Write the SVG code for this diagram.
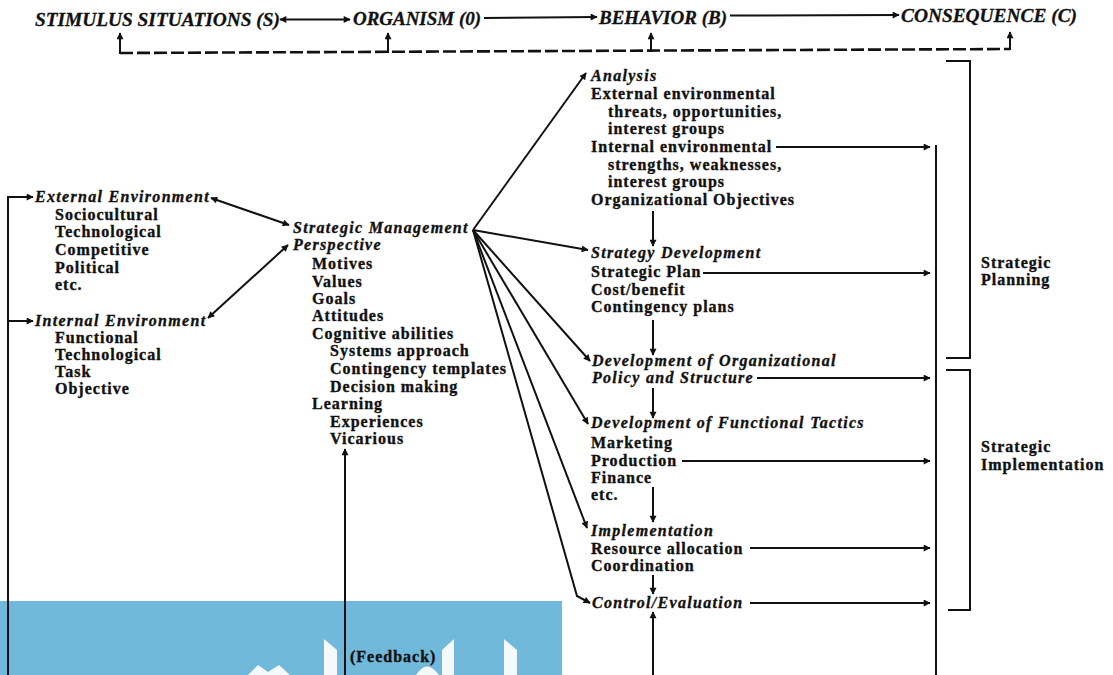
<svg xmlns="http://www.w3.org/2000/svg" width="1113" height="675" viewBox="0 0 1113 675">
<defs>
<marker id="ah" viewBox="0 0 10 10" refX="9" refY="5" markerWidth="10" markerHeight="7" orient="auto-start-reverse" markerUnits="userSpaceOnUse">
<path d="M0,0 L10,5 L0,10 z" fill="#111"/>
</marker>
<style>
.t{font-family:"Liberation Serif","Times New Roman",serif;font-weight:bold;font-size:16px;letter-spacing:1px;fill:#111;stroke:#111;stroke-width:0.35}
.h{font-style:italic;letter-spacing:1.3px}
.top{font-family:"Liberation Serif","Times New Roman",serif;font-weight:bold;font-style:italic;font-size:18px;fill:#111;stroke:#111;stroke-width:0.3}
.ln{stroke:#111;stroke-width:2;fill:none}
.arr{marker-end:url(#ah)}
.dbl{marker-start:url(#ah);marker-end:url(#ah)}
.dash{stroke:#111;stroke-width:2.6;fill:none;stroke-dasharray:13 4}
.wm{fill:#fff;opacity:0.92}
</style>
</defs>
<rect width="1113" height="675" fill="#fff"/>
<g id="background">
<rect x="0" y="601" width="562" height="74" fill="#70B9DA"/>
<path class="wm" d="M248,675 L258,665 L268,672 L279,665 L290,675 Z"/>
<path class="wm" d="M324,639 L337,650 L337,675 L324,675 Z"/>
<path class="wm" d="M416,675 Q427,658 439,675 Z"/>
<path class="wm" d="M442,650 L454,639 L454,675 L442,675 Z"/>
<path class="wm" d="M504,639 L517,650 L517,675 L504,675 Z"/>
</g>
<g id="connectors">
<line class="ln dbl" x1="280" y1="19.5" x2="350" y2="19.5"/>
<line class="ln arr" x1="484" y1="18" x2="597" y2="17"/>
<line class="ln arr" x1="730" y1="15.5" x2="899" y2="15"/>
<path class="dash" d="M120,53 L1010,49"/>
<line class="ln arr" x1="120" y1="54" x2="120" y2="33"/>
<line class="ln arr" x1="388" y1="53" x2="388" y2="33"/>
<line class="ln arr" x1="651" y1="52" x2="651" y2="33"/>
<line class="ln arr" x1="1010" y1="50" x2="1010" y2="32"/>
<path class="ln arr" d="M8,675 V197 H33"/>
<path class="ln arr" d="M8,321 H33"/>
<line class="ln dbl" x1="211" y1="198" x2="289" y2="225"/>
<line class="ln dbl" x1="208" y1="318" x2="288" y2="245"/>
<line class="ln arr" x1="473" y1="230" x2="586" y2="73"/>
<line class="ln arr" x1="473" y1="230" x2="588" y2="250"/>
<line class="ln arr" x1="473" y1="230" x2="590" y2="361"/>
<line class="ln arr" x1="473" y1="230" x2="588" y2="424"/>
<line class="ln arr" x1="473" y1="230" x2="587" y2="528"/>
<path class="ln arr" d="M473,230 L577,596 L590,603"/>
<line class="ln arr" x1="653" y1="211" x2="653" y2="246"/>
<line class="ln arr" x1="653" y1="320" x2="653" y2="355"/>
<line class="ln arr" x1="653" y1="388" x2="653" y2="418"/>
<line class="ln arr" x1="653" y1="487" x2="653" y2="522"/>
<line class="ln arr" x1="653" y1="575" x2="653" y2="594"/>
<line class="ln arr" x1="653" y1="675" x2="653" y2="612"/>
<line class="ln arr" x1="776" y1="147" x2="930" y2="147"/>
<line class="ln arr" x1="703" y1="273" x2="930" y2="273"/>
<line class="ln arr" x1="757" y1="378" x2="930" y2="378"/>
<line class="ln arr" x1="682" y1="461" x2="930" y2="461"/>
<line class="ln arr" x1="750" y1="548" x2="930" y2="548"/>
<line class="ln arr" x1="750" y1="603" x2="930" y2="603"/>
<line class="ln" x1="936" y1="145" x2="936" y2="675"/>
<path class="ln" d="M946,61 H970 V358 H946"/>
<path class="ln" d="M946,370 H970 V610 H948"/>
<line class="ln arr" x1="345" y1="675" x2="345" y2="449"/>
</g>
<g id="n-stimulus"><text class="top" x="35" y="26" textLength="245" lengthAdjust="spacingAndGlyphs">STIMULUS SITUATIONS (S)</text></g>
<g id="n-organism"><text class="top" x="353" y="25" textLength="128" lengthAdjust="spacingAndGlyphs">ORGANISM (0)</text></g>
<g id="n-behavior"><text class="top" x="599" y="23.5" textLength="128" lengthAdjust="spacingAndGlyphs">BEHAVIOR (B)</text></g>
<g id="n-consequence"><text class="top" x="901" y="22" textLength="176" lengthAdjust="spacingAndGlyphs">CONSEQUENCE (C)</text></g>
<g id="n-external">
<text class="t h" x="35" y="202">External Environment</text>
<text class="t" x="55" y="220">Sociocultural</text>
<text class="t" x="55" y="237">Technological</text>
<text class="t" x="55" y="255">Competitive</text>
<text class="t" x="55" y="273">Political</text>
<text class="t" x="55" y="290">etc.</text>
</g>
<g id="n-internal">
<text class="t h" x="35" y="326">Internal Environment</text>
<text class="t" x="55" y="343">Functional</text>
<text class="t" x="55" y="360">Technological</text>
<text class="t" x="55" y="377">Task</text>
<text class="t" x="55" y="394">Objective</text>
</g>
<g id="n-perspective">
<text class="t h" x="293" y="233">Strategic Management</text>
<text class="t h" x="293" y="250">Perspective</text>
<text class="t" x="312" y="269">Motives</text>
<text class="t" x="312" y="287">Values</text>
<text class="t" x="312" y="304">Goals</text>
<text class="t" x="312" y="321">Attitudes</text>
<text class="t" x="312" y="339">Cognitive abilities</text>
<text class="t" x="330" y="356">Systems approach</text>
<text class="t" x="330" y="374">Contingency templates</text>
<text class="t" x="330" y="392">Decision making</text>
<text class="t" x="312" y="409">Learning</text>
<text class="t" x="330" y="427">Experiences</text>
<text class="t" x="330" y="444">Vicarious</text>
</g>
<g id="n-analysis">
<text class="t h" x="591" y="81">Analysis</text>
<text class="t" x="591" y="99">External environmental</text>
<text class="t" x="608" y="117">threats, opportunities,</text>
<text class="t" x="608" y="134">interest groups</text>
<text class="t" x="591" y="152">Internal environmental</text>
<text class="t" x="608" y="170">strengths, weaknesses,</text>
<text class="t" x="608" y="187">interest groups</text>
<text class="t" x="591" y="205">Organizational Objectives</text>
</g>
<g id="n-strategy-development">
<text class="t h" x="591" y="258">Strategy Development</text>
<text class="t" x="591" y="277">Strategic Plan</text>
<text class="t" x="591" y="295">Cost/benefit</text>
<text class="t" x="591" y="312">Contingency plans</text>
</g>
<g id="n-org-policy">
<text class="t h" x="592" y="366">Development of Organizational</text>
<text class="t h" x="592" y="383">Policy and Structure</text>
</g>
<g id="n-functional-tactics">
<text class="t h" x="591" y="428">Development of Functional Tactics</text>
<text class="t" x="591" y="448">Marketing</text>
<text class="t" x="591" y="466">Production</text>
<text class="t" x="591" y="483">Finance</text>
<text class="t" x="591" y="500">etc.</text>
</g>
<g id="n-implementation">
<text class="t h" x="591" y="536">Implementation</text>
<text class="t" x="591" y="554">Resource allocation</text>
<text class="t" x="591" y="571">Coordination</text>
</g>
<g id="n-control"><text class="t h" x="592" y="608">Control/Evaluation</text></g>
<g id="n-strategic-planning">
<text class="t" x="981" y="268">Strategic</text>
<text class="t" x="981" y="285">Planning</text>
</g>
<g id="n-strategic-implementation">
<text class="t" x="981" y="452">Strategic</text>
<text class="t" x="981" y="470">Implementation</text>
</g>
<g id="n-feedback"><text class="t" x="350" y="662">(Feedback)</text></g>
</svg>
